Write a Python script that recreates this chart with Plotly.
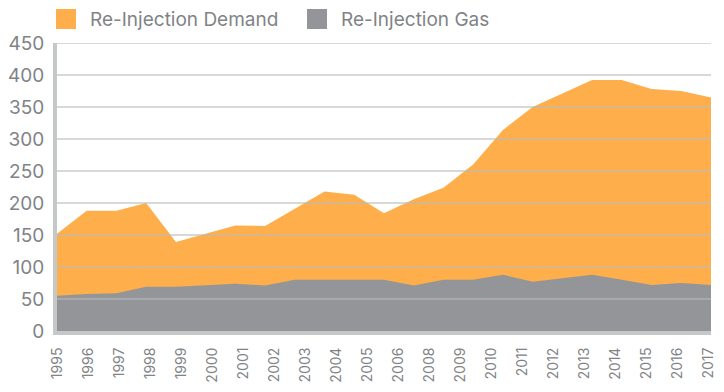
import numpy as np
import plotly.graph_objects as go

# ---- data ----
years = list(range(1995, 2018))  # 23 data points
demand = [152, 188, 188, 200, 139, 152, 165, 164, 191, 218, 213, 184, 206,
          224, 260, 314, 350, 371, 392, 392, 378, 375, 365]
gas = [55, 58, 59, 69, 69, 71, 74, 71, 80, 80, 80, 80, 71,
       80, 80, 88, 77, 83, 88, 80, 72, 75, 72]
tick_labels = ["1995", "1996", "1997", "1998", "1999", "2000", "2001", "2002",
               "2003", "2004", "2005", "2006", "2008", "2009", "2010", "2011",
               "2012", "2013", "2014", "2015", "2016", "2017"]
y_ticks = [0, 50, 100, 150, 200, 250, 300, 350, 400, 450]
series_names = ["Re-Injection Demand", "Re-Injection Gas"]

# ---- style ----
ORANGE = "#FEAE4A"
GRAY = "#939598"
TEXT = "#818386"
AXIS = "#C6C7C8"
FONT = "Inter"

# page body has an 8px margin, so the figure is sized to fit inside it
OFF = 8
W, H = 724 - 2 * OFF, 392 - 2 * OFF
L, R, T, B = 57 - OFF, 5, 43 - OFF, 53
pw, ph = W - L - R, H - T - B

fig = go.Figure()
fig.add_trace(go.Scatter(x=years, y=demand, mode="lines", line=dict(width=0, color=ORANGE),
                         fill="tozeroy", fillcolor=ORANGE, name=series_names[0],
                         showlegend=False, hoverinfo="x+y"))
fig.add_trace(go.Scatter(x=years, y=gas, mode="lines", line=dict(width=0, color=GRAY),
                         fill="tozeroy", fillcolor=GRAY, name=series_names[1],
                         showlegend=False, hoverinfo="x+y"))

# gridlines drawn over the areas
for v in y_ticks[1:]:
    fig.add_shape(type="line", xref="paper", yref="y", x0=0, x1=1, y0=v, y1=v,
                  line=dict(color="rgba(185,186,188,0.75)", width=1.5), layer="above")

# manual legend (screen pixel -> paper coords)
def px_x(p):
    return (p - OFF - L) / pw

def px_y(p):
    return (H - B - (p - OFF)) / ph

legend_items = [(series_names[0], ORANGE, 56, 88), (series_names[1], GRAY, 307, 339)]
for name, col, sq_x, tx_x in legend_items:
    fig.add_shape(type="rect", xref="paper", yref="paper",
                  x0=px_x(sq_x), x1=px_x(sq_x + 20), y0=px_y(29), y1=px_y(9),
                  fillcolor=col, line=dict(width=0), layer="above")
    fig.add_annotation(xref="paper", yref="paper", x=px_x(tx_x), y=px_y(19.5),
                       text=name, showarrow=False, xanchor="left", yanchor="middle",
                       font=dict(family=FONT, size=19, color=TEXT))

# 22 labels spread evenly under the 23 data points (as in the original)
tick_pos = [round(v, 6) for v in np.linspace(years[0], years[-1] - 0.1, len(tick_labels))]

fig.update_layout(
    width=W, height=H,
    margin=dict(l=L, r=R, t=T, b=B, pad=0, autoexpand=False),
    paper_bgcolor="white", plot_bgcolor="white",
    showlegend=False,
    xaxis=dict(
        range=[years[0] - 1e-6, years[-1] + 1e-6],
        tickmode="array",
        tickvals=tick_pos,
        ticktext=tick_labels,
        tickangle=-90,
        tickfont=dict(family=FONT, size=14, color=TEXT),
        showgrid=False, zeroline=False,
        showline=True, linecolor=AXIS, linewidth=4,
        ticks="", layer="above traces", automargin=False,
        ticklabelstandoff=7, ticklabeloverflow="allow",
    ),
    yaxis=dict(
        range=[0, 450],
        tickmode="array", tickvals=y_ticks,
        tickfont=dict(family=FONT, size=19, color=TEXT),
        showgrid=False, zeroline=False,
        showline=True, linecolor=AXIS, linewidth=4,
        ticks="", ticklabelstandoff=5, layer="above traces", automargin=False,
        ticklabeloverflow="allow",
    ),
)

fig.write_html("out.html")
